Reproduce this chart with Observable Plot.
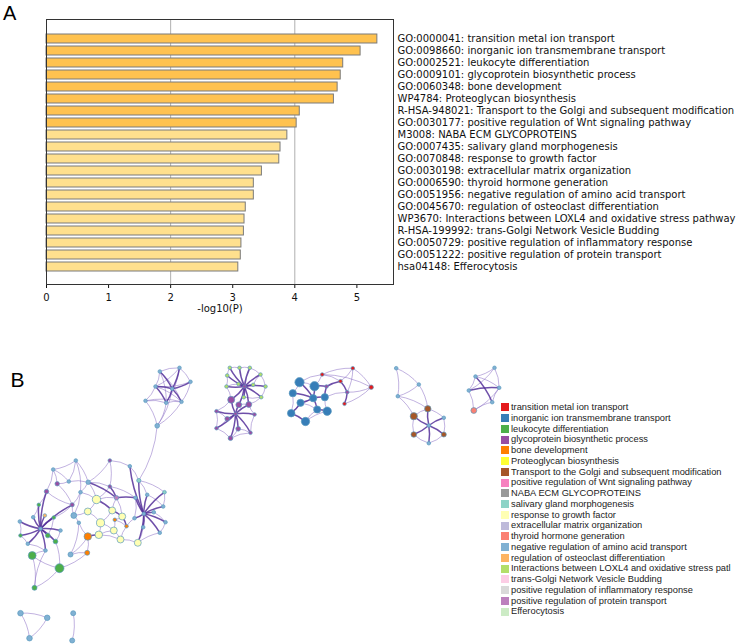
<!DOCTYPE html>
<html><head><meta charset="utf-8">
<script src="https://cdn.jsdelivr.net/npm/d3@7"></script>
<script src="https://cdn.jsdelivr.net/npm/@observablehq/plot@0.6"></script>
<style>
body{margin:0;background:#fff;}
#root{position:relative;width:749px;height:644px;overflow:hidden;background:#fff;}
.plabel{position:absolute;font-family:"Liberation Sans",Arial,sans-serif;line-height:1;color:#000;}
#legend{position:absolute;left:501px;top:402px;font-family:"Liberation Sans",Arial,sans-serif;font-size:9.3px;color:#222;}
#legend .row{height:10.76px;line-height:10.76px;white-space:nowrap;display:flex;align-items:center;}
#legend .sw{display:inline-block;width:8px;height:8px;margin-right:2px;flex:none;}
</style></head><body><div id="root"></div>
<script>
// ---------- Panel A data ----------
const termIds = ["GO:0000041","GO:0098660","GO:0002521","GO:0009101","GO:0060348","WP4784","R-HSA-948021","GO:0030177","M3008","GO:0007435","GO:0070848","GO:0030198","GO:0006590","GO:0051956","GO:0045670","WP3670","R-HSA-199992","GO:0050729","GO:0051222","hsa04148"];
const termNames = ["transition metal ion transport","inorganic ion transmembrane transport","leukocyte differentiation","glycoprotein biosynthetic process","bone development","Proteoglycan biosynthesis","Transport to the Golgi and subsequent modification","positive regulation of Wnt signaling pathway","NABA ECM GLYCOPROTEINS","salivary gland morphogenesis","response to growth factor","extracellular matrix organization","thyroid hormone generation","negative regulation of amino acid transport","regulation of osteoclast differentiation","Interactions between LOXL4 and oxidative stress pathway","trans-Golgi Network Vesicle Budding","positive regulation of inflammatory response","positive regulation of protein transport","Efferocytosis"];
const logP = [5.33,5.06,4.78,4.74,4.69,4.63,4.08,4.03,3.88,3.77,3.75,3.47,3.34,3.34,3.21,3.19,3.18,3.14,3.13,3.09];
const xTicks = [0,1,2,3,4,5];

// ---------- Panel B data ----------
const legendTerms = ["transition metal ion transport","inorganic ion transmembrane transport","leukocyte differentiation","glycoprotein biosynthetic process","bone development","Proteoglycan biosynthesis","Transport to the Golgi and subsequent modification","positive regulation of Wnt signaling pathway","NABA ECM GLYCOPROTEINS","salivary gland morphogenesis","response to growth factor","extracellular matrix organization","thyroid hormone generation","negative regulation of amino acid transport","regulation of osteoclast differentiation","Interactions between LOXL4 and oxidative stress patl","trans-Golgi Network Vesicle Budding","positive regulation of inflammatory response","positive regulation of protein transport","Efferocytosis"];
const palette = ["#E41A1C","#377EB8","#4DAF4A","#984EA3","#FF7F00","#FFFF33","#A65628","#F781BF","#999999","#8DD3C7","#FFFFB3","#BEBADA","#FB8072","#80B1D3","#FDB462","#B3DE69","#FCCDE5","#D9D9D9","#BC80BD","#CCEBC5"];

// network layout: [id, layoutX, layoutY, weight, cluster term index]
const nodesT = [["T0",159.3,371,1,13],["T1",179,367.3,1,13],["T2",190,381.3,1,13],["T3",155,386,1,13],["T4",171.7,388.3,1,13],["T5",145,400.3,1,13],["T6",165.7,402.3,1,13],["T7",181,401.3,1,13],["T8",156.7,425.3,1.4,13]];
const nodesG = [["G0",244,386,1,3],["G1",229.3,367.3,1,15],["G2",239,367.3,1,15],["G3",249.3,367.3,1,15],["G4",260,374,1,15],["G5",265,386,1,15],["G6",260.7,396.7,1,15],["G7",226.7,375,1,15],["G8",226,386,1,15],["G9",238,383.5,1,15],["G10",252.7,384.3,1,15],["G11",243.3,396.7,1,15]];
const nodesP = [["P0",230.7,399.3,2.2,3],["P1",238.3,404.3,1.8,3],["P2",248.3,404,1.8,3],["P3",216,410.7,1,3],["P4",226.7,418.3,1.4,3],["P5",254,414,1,3],["P6",235,413.3,1,3],["P7",216,427.7,1,3],["P8",237.7,428.3,1.4,3],["P9",250,432.3,1,3],["P10",230,437.7,1.4,3]];
const nodesB = [["B0",299,381.7,3,1],["B1",292.3,392.7,2.3,1],["B2",314,385.7,3,1],["B3",300,402.3,2.3,1],["B4",312.7,397.7,2.3,1],["B5",324.3,396.7,2.3,1],["B6",290.7,412.7,2.4,1],["B7",316.7,409,2.3,1],["B8",326.7,410.7,2.7,1],["B9",305,421,2.7,1]];
const nodesR = [["R0",321.7,374,1,0],["R1",352.3,367.7,1,0],["R2",370.7,386.7,1.3,0],["R3",340,380.7,1,0],["R4",346.7,391.7,1,3],["R5",344,403.3,1,0],["R6",326,386,1,3]];
const nodesU = [["U0",395.7,367.7,1,13],["U1",418.3,384,1,13],["U2",397.3,395.7,1,13]];
const nodesW = [["W0",413.3,415.7,2.3,6],["W1",427.3,408.3,2,6],["W2",443.3,417.3,1,13],["W3",413.3,434,1.7,6],["W4",428.3,425,1,13],["W5",443.3,434,1.5,6],["W6",428.3,442.7,1,13]];
const nodesK = [["K0",494,367.3,1,13],["K1",475,376,1,13],["K2",498.7,387.3,1,13],["K3",468.3,390,1,13],["K4",491.7,401.7,1,13],["K5",473.3,410,1.8,12]];
const nodesS = [["S0",20,612.7,1.7,13],["S1",46.7,617.3,1.7,13],["S2",29,637.7,1.7,13],["Q0",72.7,612.7,1.5,13],["Q1",71.7,640,1.5,13]];
const nodesL = [["L0",75.3,460,1,13],["L1",109.3,460,1,3],["L2",129.3,465.7,1,13],["L3",52.7,469,1,13],["L4",138.3,480,1.2,9],["L5",68.3,481,1,13],["L6",87.7,481.7,1.3,13],["L7",56.7,483.3,1.3,3],["L8",109.3,486,1,3],["L9",46,491,1.3,3],["L10",80,491.7,1,13],["L11",164,491.7,1,9],["L12",146.7,494.3,1,13],["L13",96,499,2.7,10],["L14",116,497.3,1.3,18],["L15",135,497.3,1,13],["L16",71.7,504.3,1.2,3],["L17",38.3,504.3,1,2],["L18",111.7,510,2.2,10],["L19",87.3,511,2.2,10],["L20",162.7,506,1,13],["L21",143.3,513.3,1,13],["L22",153.3,511.7,1,13],["L23",121.7,516,2.2,10],["L24",73.3,515,1.8,13],["L25",44.3,515,1,14],["L26",53.3,517,1,2],["L27",32.7,516.7,1,13],["L28",134,517.7,1,13],["L29",100,522.3,2.6,10],["L30",114.3,519.3,1,4],["L31",165,521.7,1,13],["L32",19.3,521,1,13],["L33",78.3,522.3,1,13],["L34",40,528.3,1,13],["L35",126,525.7,1,4],["L36",142.7,526.7,1,13],["L37",60,530,1,13],["L38",113.3,530,2.2,10],["L39",159.3,532.3,1,13],["L40",98.3,534.3,2.4,10],["L41",20,535,1,2],["L42",87.3,536,2.4,4],["L43",47.3,535,1.4,2],["L44",120,539,2.2,10],["L45",137.3,542.3,2.2,10],["L46",27.3,543.3,1,13],["L47",55,541,1.4,2],["L48",45,550,1,13],["L49",70,554,1.5,13],["L50",86.7,552.3,1.5,4],["L51",31.7,555,2.5,2],["L52",59,567.7,2.9,2],["L53",34,587.3,1.5,2]];

const strongEdges = ["T3-T4","T4-T7","T0-T4","T1-T4","T3-T6","T4-T6","T2-T4",
"G0-G1","G0-G2","G0-G3","G0-G4","G0-G5","G0-G6","G0-G7","G0-G8","G0-G9","G0-G10","G0-G11","G0-P0","G0-P1","G0-P2",
"P6-P0","P6-P1","P6-P2","P6-P3","P6-P4","P6-P5","P6-P7","P6-P8","P6-P9","P6-P10",
"B1-B4","B4-B5","B4-B3","B3-B6","B4-B7","B7-B8","B2-B4","B0-B4","B5-R6","R6-R3","R3-R4","R4-R5","B2-R6","B6-B9",
"W4-W0","W4-W1","W4-W2","W4-W3","W4-W5","W4-W6","K1-K4","K3-K2",
"L34-L27","L34-L32","L34-L41","L34-L46","L34-L48","L34-L43","L34-L26","L34-L25","L34-L17","L34-L37","L34-L47","L34-L9","L34-L16",
"L21-L4","L21-L12","L21-L15","L21-L20","L21-L22","L21-L28","L21-L31","L21-L36","L21-L39","L21-L45","L21-L11","L21-L2",
"L8-L14","L13-L18","L18-L23","L23-L35","L42-L40","L14-L15","L6-L14"];
const lightEdges = ["T0-T1","T1-T2","T0-T3","T2-T7","T3-T5","T5-T6","T6-T7","T5-T8","T7-T8","T6-T8","T0-T7","T1-T3","T3-T7","T0-T6","T1-T6","T2-T3","T4-T8","T5-T7","T8-L4",
"G1-G2","G2-G3","G3-G4","G4-G5","G5-G6","G7-G1","G7-G8","G8-P0","G6-G11","G6-P2","G8-G9","G10-G4",
"P3-P4","P3-P7","P7-P10","P10-P9","P9-P5","P5-P2","P4-P7","P8-P9","P1-P2","P0-P3","P8-P10",
"B0-B1","R0-R1","R1-R2","R2-R4","R0-R3","R1-R3","R0-B2","B3-B7","B9-B7","B5-R4","R0-R2","R1-R4","B6-B4","B8-B5","B0-B2","B1-B6","B9-B8","R2-R5","B0-R0",
"U0-U1","U0-U2","U1-U2","U2-W0","U1-W1","W0-W1","W1-W2","W2-W5","W5-W6","W6-W3","W3-W0","U2-W1",
"K0-K1","K0-K2","K1-K3","K3-K5","K5-K4","K4-K2","K1-K2","K0-K3","K2-K5",
"S0-S1","S1-S2","S0-S2","Q0-Q1",
"L0-L3","L0-L5","L0-L6","L3-L7","L3-L9","L5-L6","L5-L7","L6-L10","L6-L8","L1-L2","L1-L8","L2-L4","L4-L12","L4-L11","L8-L13","L10-L16","L10-L13","L13-L19","L14-L23","L18-L29","L19-L24","L19-L29","L23-L30","L29-L40","L29-L38","L38-L44","L42-L50","L42-L33","L44-L45","L44-L35","L35-L28","L24-L33","L33-L49","L49-L50","L50-L52","L52-L51","L51-L53","L52-L53","L51-L48","L47-L52","L16-L9","L9-L17","L7-L16","L16-L26","L37-L47","L17-L27","L32-L41","L41-L46","L46-L48","L24-L16","L15-L28","L36-L45","L30-L38","L40-L44","L18-L14","L10-L24","L12-L20","L22-L31","L31-L39","L11-L20","L0-L10","L3-L5","L6-L13","L8-L15","L1-L6","L13-L14","L42-L49","L40-L38","L30-L35","L45-L39","L26-L43","L43-L47","L53-L48"];

// ---------- build ----------
const root = document.getElementById("root");

const barData = termIds.map((id, i) => ({label: `${id}: ${termNames[i]}`, value: logP[i], top: i < 8}));
const plotA = Plot.plot({
  width: 749, height: 330,
  marginLeft: 46, marginRight: 356, marginTop: 19, marginBottom: 46,
  style: {fontFamily: "'DejaVu Sans', sans-serif", fontSize: "10px", color: "#111", background: "transparent", overflow: "visible"},
  x: {domain: [0, 5.59], ticks: xTicks, tickSize: 4, tickFormat: d3.format("d"), label: null},
  y: {domain: barData.map(d => d.label), axis: null, paddingInner: 0.27, paddingOuter: 0.135, insetTop: 5.3, insetBottom: 2.6},
  marks: [
    Plot.ruleX([2, 4], {stroke: "#b0b0b0", strokeWidth: 1}),
    Plot.barX(barData, {x: "value", y: "label", fill: d => d.top ? "#FFC24F" : "#FFE08E", stroke: "#7a7a7a", strokeWidth: 1}),
    Plot.frame({stroke: "#333", strokeWidth: 1}),
    Plot.text(barData, {y: "label", text: "label", frameAnchor: "right", dx: 4, textAnchor: "start", fontSize: 10, fill: "#111"}),
    Plot.text(["-log10(P)"], {text: d => d, frameAnchor: "bottom", dy: 27, fontSize: 10, fill: "#111"})
  ]
});
plotA.style.position = "absolute"; plotA.style.left = "0px"; plotA.style.top = "0px";
root.appendChild(plotA);

const nodes = [...nodesT, ...nodesG, ...nodesP, ...nodesB, ...nodesR, ...nodesU, ...nodesW, ...nodesK, ...nodesS, ...nodesL]
  .map(([id, x, y, w, cat]) => ({id, x, y, w, term: legendTerms[cat]}));
const byId = new Map(nodes.map(n => [n.id, n]));
const toLinks = list => list.map(s => { const [a, b] = s.split("-"); const A = byId.get(a), B = byId.get(b); return {x1: A.x, y1: A.y, x2: B.x, y2: B.y}; });
const strongLinks = toLinks(strongEdges);
const lightLinks = toLinks(lightEdges);

const plotB = Plot.plot({
  width: 749, height: 314, margin: 0,
  style: {background: "transparent", overflow: "visible"},
  x: {domain: [0, 749], axis: null},
  y: {domain: [330, 644], reverse: true, axis: null},
  r: {type: "linear", domain: [1, 3], range: [1.8, 4.6]},
  color: {domain: legendTerms, range: palette},
  marks: [
    Plot.arrow(lightLinks, {x1: "x1", y1: "y1", x2: "x2", y2: "y2", bend: 14, headLength: 0, insetStart: 0, insetEnd: 0, stroke: "#8c70c6", strokeOpacity: 0.6, strokeWidth: 0.9}),
    Plot.arrow(strongLinks, {x1: "x1", y1: "y1", x2: "x2", y2: "y2", bend: 10, headLength: 0, insetStart: 0, insetEnd: 0, stroke: "#55309a", strokeOpacity: 0.85, strokeWidth: 1.5}),
    Plot.dot(nodes, {x: "x", y: "y", r: "w", fill: "term", stroke: "#5b9bbf", strokeWidth: 0.7})
  ]
});
plotB.style.position = "absolute"; plotB.style.left = "0px"; plotB.style.top = "330px";
root.appendChild(plotB);

// panel letters
const la = document.createElement("div"); la.className = "plabel"; la.textContent = "A";
la.style.left = "3px"; la.style.top = "3.4px"; la.style.fontSize = "20px"; root.appendChild(la);
const lb = document.createElement("div"); lb.className = "plabel"; lb.textContent = "B";
lb.style.left = "10.5px"; lb.style.top = "369px"; lb.style.fontSize = "21px"; root.appendChild(lb);

// legend
const leg = document.createElement("div"); leg.id = "legend";
legendTerms.forEach((t, i) => {
  const row = document.createElement("div"); row.className = "row";
  const sw = document.createElement("span"); sw.className = "sw"; sw.style.background = palette[i];
  const tx = document.createElement("span"); tx.textContent = t;
  row.appendChild(sw); row.appendChild(tx); leg.appendChild(row);
});
root.appendChild(leg);
</script></body></html>
